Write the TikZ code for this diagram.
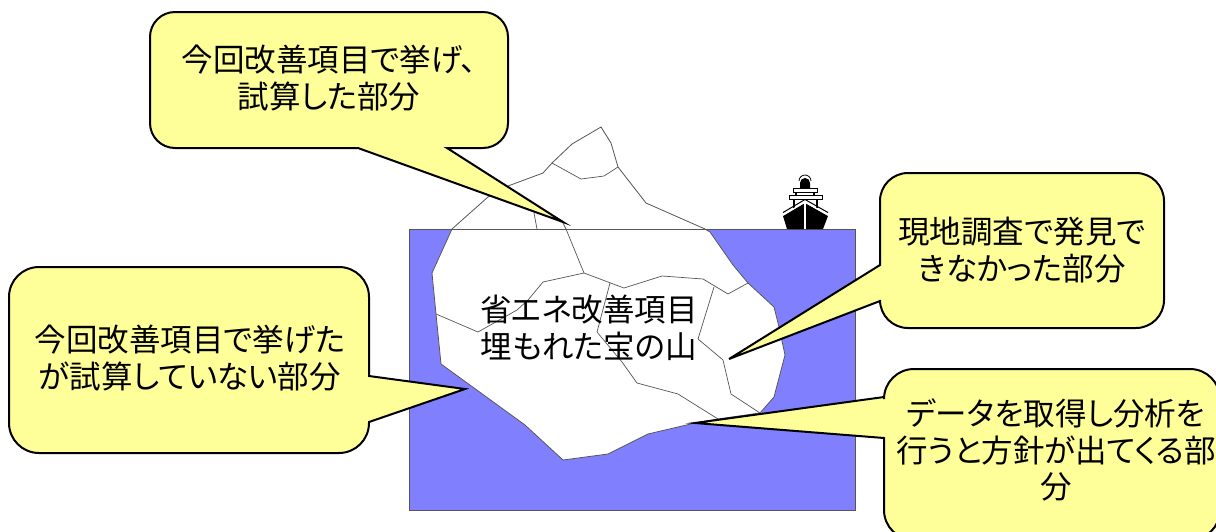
\documentclass[tikz,border=0pt]{standalone}
\usepackage{fontspec}
\newfontfamily\jpf[RawFeature={+palt}]{Noto Sans CJK JP}
\definecolor{sea}{HTML}{8080FF}
\definecolor{note}{HTML}{FFFF99}
\definecolor{edge}{HTML}{555555}
\tikzset{
  sealine/.style={draw=edge,fill=sea,line width=1pt},
  berg/.style={draw=edge,fill=white,line width=.8pt,line join=round},
  crack/.style={draw=edge,line width=.7pt,line join=round},
  bubble/.style={draw=black,fill=note,line width=2pt,line join=miter,miter limit=10},
  label/.style={font=\jpf\fontsize{31.5}{36.5}\selectfont,align=center,text=black,inner sep=0pt},
  shipw/.style={draw=white,line width=1.2pt},
}
\begin{document}
\begin{tikzpicture}[x=1pt,y=-1pt]
\useasboundingbox (0,0) rectangle (1216,531);
\clip (0,0) rectangle (1216,531);
\fill[white] (0,0) rectangle (1216,531);
% sea
\path[sealine] (409.5,229) rectangle (855.5,510);
% iceberg
\path[berg] (601,127) -- (611,143) -- (618,167) -- (646,203) -- (705,229) -- (710,232) -- (733,265) -- (748,283) -- (774,307) -- (779,327) -- (785,355) -- (774,397) -- (760,413) -- (718,419) -- (695,423) -- (648,434) -- (608,454) -- (563,460) -- (525,425) -- (441,364) -- (436,314) -- (432,273) -- (452,229) -- (488,197) -- (508,186) -- (543,173) -- (552,163) -- (572,144) -- cycle;
\draw[edge,line width=1pt] (409.5,229) -- (855.5,229);
% cracks
\path[crack] (552,163) -- (581,179) -- (604,176) -- (618,167);
\path[crack] (534,213) -- (537,229);
\path[crack] (563,223) -- (566,229) -- (584,273) -- (624,288) -- (662,276) -- (703,279) -- (728,294) -- (748,283);
\path[crack] (584,273) -- (543,282) -- (528,300) -- (517,310) -- (478,332) -- (436,314);
\path[crack] (610,283) -- (597,332) -- (622,362) -- (637,383) -- (678,394) -- (718,419);
\path[crack] (714,287) -- (698,339) -- (723,360) -- (731,394) -- (760,413);
% ship
\fill[black] (805,203) -- (783,216) -- (787,229) -- (823,229) -- (828,216) -- cycle;
\draw[shipw] (805,203) -- (805,229);
\fill[black] (800,190) -- (800,183) arc[start angle=180,end angle=360,radius=5] -- (810,190) -- cycle;
\draw[black,line width=.8pt] (799,181) arc[start angle=180,end angle=360,radius=6];
\draw[black,line width=1.2pt] (796,192) -- (796,196) (814,192) -- (814,196);
\draw[black,line width=1.2pt] (794,199) -- (794,208) (817,199) -- (817,208);
\draw[black,fill=white,line width=1pt] (793,188.5) rectangle (817,192.5);
\draw[black,fill=white,line width=1pt] (789,195.5) rectangle (822,199.5);
\draw[shipw] (783,215) -- (805,202) -- (828,215);
\draw[black,line width=1pt] (783,212.5) -- (805,199.5) -- (828,212.5);
% callouts
\path[bubble] (175,12) -- (483,12) arc[start angle=-90,end angle=0,radius=25] -- (508,123) arc[start angle=0,end angle=90,radius=25] -- (447,148) -- (563,222) -- (358,148) -- (175,148) arc[start angle=90,end angle=180,radius=25] -- (150,37) arc[start angle=180,end angle=270,radius=25] -- cycle;
\path[bubble] (908,173) -- (1136,173) arc[start angle=-90,end angle=0,radius=28] -- (1164,300) arc[start angle=0,end angle=90,radius=28] -- (908,328) arc[start angle=90,end angle=180,radius=28] -- (880,301) -- (729,359) -- (880,265) -- (880,201) arc[start angle=180,end angle=270,radius=28] -- cycle;
\path[bubble] (39,267) -- (339,267) arc[start angle=-90,end angle=0,radius=30] -- (369,376) -- (465,389) -- (369,422) -- (369,423) arc[start angle=0,end angle=90,radius=30] -- (39,453) arc[start angle=90,end angle=180,radius=30] -- (9,297) arc[start angle=180,end angle=270,radius=30] -- cycle;
\path[bubble] (914,369) -- (1190,369) arc[start angle=-90,end angle=0,radius=30] -- (1220,510) arc[start angle=0,end angle=90,radius=30] -- (914,540) arc[start angle=90,end angle=180,radius=30] -- (884,438) -- (695,423) -- (884,397) -- (884,399) arc[start angle=180,end angle=270,radius=30] -- cycle;
% texts
\node[label] (t1) at (329,78) {今回改善項目で挙げ、\\試算した部分};
\node[label] (t2) at (1022,250) {現地調査で発見で\\きなかった部分};
\node[label] (t3) at (190,358) {今回改善項目で挙げた\\が試算していない部分};
\node[label] (t4) at (1056,450) {データを取得し分析を\\行うと方針が出てくる部\\分};
\node[label] (t5) at (589,328) {省エネ改善項目\\埋もれた宝の山};
\end{tikzpicture}
\end{document}
